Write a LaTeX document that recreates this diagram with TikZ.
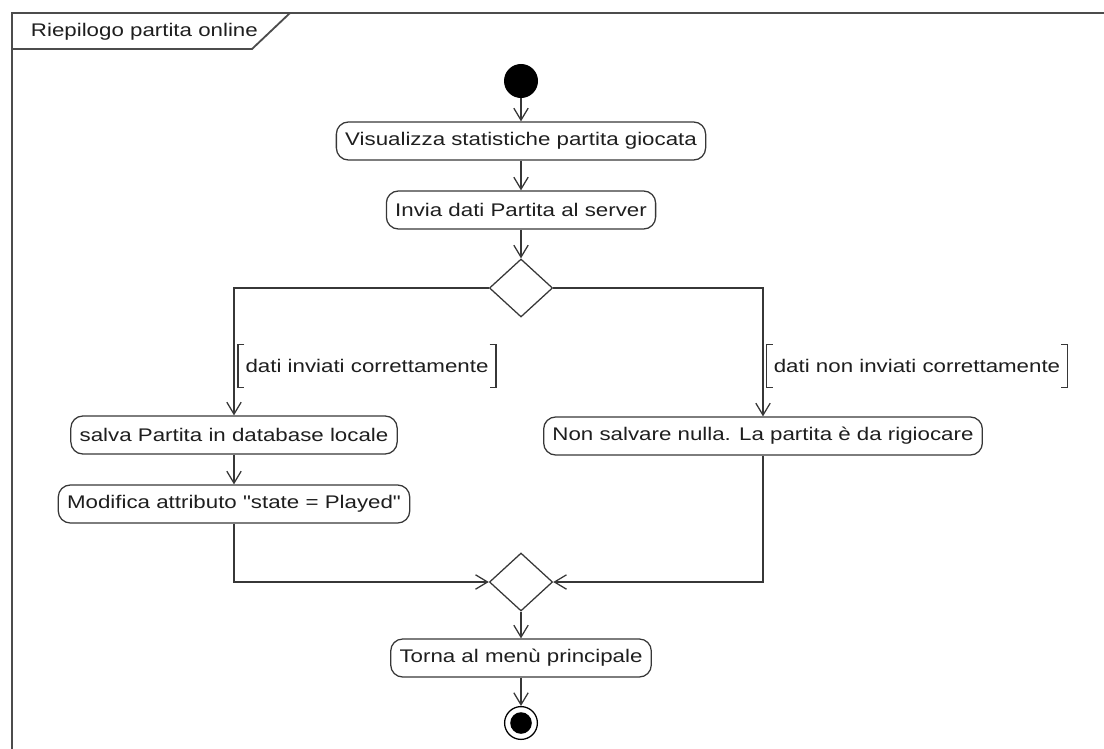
\documentclass[tikz,border=0pt]{standalone}
\usepackage{fontspec}
\setmainfont{Liberation Sans}[FakeStretch=1.22, Ligatures=TeXOff]
\usetikzlibrary{arrows.meta,shapes.geometric}
\definecolor{umlline}{RGB}{55,55,55}
\definecolor{umltext}{RGB}{30,30,30}

\begin{document}
\begin{tikzpicture}[
    x=0.025cm, y=-0.025cm,
    >={Straight Barb[length=3mm,width=3.6mm]},
    every node/.style={font=\fontsize{13}{15}\selectfont, text=umltext},
    flow/.style={->, draw=umlline, line width=0.9pt},
    act/.style={rectangle, rounded corners=3mm, draw=umlline, line width=0.9pt, minimum height=9.5mm, inner xsep=2.2mm},
    dec/.style={diamond, draw=umlline, line width=0.9pt, minimum width=15.8mm, minimum height=14.5mm, inner sep=0pt},
    init/.style={circle, fill=black, minimum size=8.5mm, inner sep=0pt},
    final/.style={circle, draw=black, line width=0.9pt, minimum size=8.2mm, inner sep=0pt,
      path picture={\fill[black] (path picture bounding box.center) circle (2.7mm);}},
    guard/.style={minimum height=10.5mm, inner xsep=1.8mm},
    frame/.style={draw=black!70, line width=1.3pt},
  ]
  \useasboundingbox (0,0) rectangle (1104,749);

  %% ---------------- frame and title tab ----------------
  \draw[frame] (12,749) -- (12,13) -- (1104,13);
  \node[anchor=west] (title) at (26,32) {Riepilogo partita online};
  \draw[frame] (12,49) -- (252,49) -- (290,13);

  %% ---------------- main column ----------------
  \node[init] (start) at (521,81) {};
  \node[act] (stats) at (521,141) {Visualizza statistiche partita giocata};
  \node[act] (send) at (521,210) {Invia dati Partita al server};
  \node[dec] (check) at (521,288) {};

  %% ---------------- branches ----------------
  \node[act] (save) at (234,435) {salva Partita in database locale};
  \node[act] (state) at (234,504) {Modifica attributo "state = Played"};
  \node[act] (discard) at (763,436) {Non salvare nulla. La partita è da rigiocare};
  \node[guard] (okg) at (367,366) {dati inviati correttamente};
  \node[guard] (kog) at (917,366) {dati non inviati correttamente};

  %% ---------------- merge and end ----------------
  \node[dec] (merge) at (521,582) {};
  \node[act] (menu) at (521,658) {Torna al menù principale};
  \node[final] (stop) at (521,723) {};

  %% ---------------- flows ----------------
  \draw[flow] (start) -- (stats);
  \draw[flow] (stats) -- (send);
  \draw[flow] (send) -- (check);
  \draw[flow] (check.west) -| (save.north);
  \draw[flow] (check.east) -| (discard.north);
  \draw[flow] (save) -- (state);
  \draw[flow] (state.south) |- (merge.west);
  \draw[flow] (discard.south) |- (merge.east);
  \draw[flow] (merge) -- (menu);
  \draw[flow] (menu) -- (stop);

  %% ---------------- guard brackets ----------------
  \foreach \g in {okg,kog} {
    \draw[umlline, line width=0.9pt] ([xshift=1.6mm]\g.north west) -- (\g.north west) -- (\g.south west) -- ++(1.6mm,0);
    \draw[umlline, line width=0.9pt] ([xshift=-1.6mm]\g.north east) -- (\g.north east) -- (\g.south east) -- ++(-1.6mm,0);
  }

\end{tikzpicture}
\end{document}
